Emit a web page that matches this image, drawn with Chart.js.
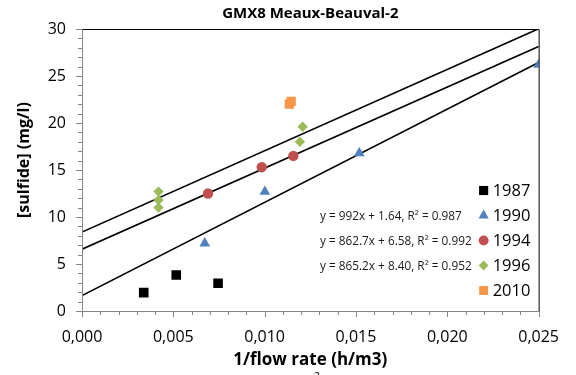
<!DOCTYPE html>
<html><head><meta charset="utf-8">
<script src="https://cdn.jsdelivr.net/npm/chart.js@4/dist/chart.umd.min.js"></script>
<style>html,body{margin:0;padding:0;background:#fff;}#wrap{width:576px;height:375px;position:relative;}</style>
</head><body><div id="wrap"><canvas id="c"></canvas></div>
<script>
// ---- data ----
const chartTitle = 'GMX8 Meaux-Beauval-2';
const xAxisTitle = '1/flow rate (h/m3)';
const yAxisTitle = '[sulfide] (mg/l)';
const seriesNames = ['1987', '1990', '1994', '1996', '2010'];
const x1987 = [0.00338, 0.00516, 0.00745];
const y1987 = [1.95, 3.83, 2.95];
const x1990 = [0.00672, 0.01001, 0.01518, 0.02500];
const y1990 = [7.2, 12.7, 16.8, 26.2];
const x1994 = [0.00690, 0.00984, 0.01157];
const y1994 = [12.5, 15.3, 16.5];
const x1996 = [0.00419, 0.00419, 0.00419, 0.01193, 0.01208];
const y1996 = [12.7, 11.8, 11.0, 18.0, 19.6];
const x2010 = [0.01135, 0.01145];
const y2010 = [22.0, 22.3];
const trendSlopes = [992, 862.7, 865.2];
const trendIntercepts = [1.64, 6.58, 8.40];
const trendLabels = ['y = 992x + 1.64, R\u00b2 = 0.987', 'y = 862.7x + 6.58, R\u00b2 = 0.992', 'y = 865.2x + 8.40, R\u00b2 = 0.952'];
const trendRange = [0, 0.025];
const xTickValues = [0, 0.005, 0.010, 0.015, 0.020, 0.025];
const xTickLabels = ['0,000', '0,005', '0,010', '0,015', '0,020', '0,025'];
const yTickValues = [0, 5, 10, 15, 20, 25, 30];
const yTickLabels = ['0', '5', '10', '15', '20', '25', '30'];
const xMinorStep = 0.001, yMinorStep = 1;

// ---- styles ----
const colors = ['#000000', '#4F81BD', '#C0504D', '#9BBB59', '#F79646'];
const styles = ['rect', 'triangle', 'circle', 'rectRot', 'rect'];
const radii = [6.8, 6.2, 5.2, 5.2, 6.6];
const FONT = "'Open Sans', 'DejaVu Sans', sans-serif";

const xs = [x1987, x1990, x1994, x1996, x2010];
const ys = [y1987, y1990, y1994, y1996, y2010];

const datasets = seriesNames.map((n, i) => ({
  label: n,
  data: xs[i].map((x, k) => ({x: x, y: ys[i][k]})),
  pointStyle: styles[i],
  pointRadius: radii[i],
  pointBackgroundColor: colors[i],
  pointBorderWidth: 0,
  showLine: false
}));
trendSlopes.forEach((a, i) => {
  datasets.push({
    label: trendLabels[i],
    type: 'line',
    data: trendRange.map(x => ({x: x, y: a * x + trendIntercepts[i]})),
    borderColor: '#000000',
    borderWidth: 1.6,
    pointRadius: 0,
    fill: false,
    tension: 0
  });
});

function drawMarker(ctx, style, x, y, r, color) {
  ctx.save();
  ctx.fillStyle = color;
  ctx.beginPath();
  if (style === 'rect') {
    const s = r * Math.SQRT1_2;
    ctx.rect(x - s, y - s, 2 * s, 2 * s);
  } else if (style === 'triangle') {
    ctx.moveTo(x, y - r);
    ctx.lineTo(x + 0.866 * r, y + 0.5 * r);
    ctx.lineTo(x - 0.866 * r, y + 0.5 * r);
    ctx.closePath();
  } else if (style === 'circle') {
    ctx.arc(x, y, r, 0, Math.PI * 2);
  } else if (style === 'rectRot') {
    ctx.moveTo(x - r, y); ctx.lineTo(x, y - r); ctx.lineTo(x + r, y); ctx.lineTo(x, y + r);
    ctx.closePath();
  }
  ctx.fill();
  ctx.restore();
}

const deco = {
  id: 'deco',
  beforeDraw(chart) {
    const ctx = chart.ctx;
    ctx.save();
    ctx.fillStyle = '#ffffff';
    ctx.fillRect(0, 0, chart.width, chart.height);
    ctx.restore();
  },
  afterDraw(chart) {
    const ctx = chart.ctx;
    const a = chart.chartArea;
    const sx = chart.scales.x, sy = chart.scales.y;
    ctx.save();
    // box
    ctx.lineWidth = 1;
    ctx.strokeStyle = '#000000';
    ctx.beginPath();
    ctx.moveTo(a.left + 0.5, a.top + 0.5);
    ctx.lineTo(a.right + 0.5, a.top + 0.5);
    ctx.lineTo(a.right + 0.5, a.bottom + 0.5);
    ctx.stroke();
    ctx.strokeStyle = '#868686';
    ctx.beginPath();
    ctx.moveTo(a.left + 0.5, a.top + 0.5);
    ctx.lineTo(a.left + 0.5, a.bottom + 0.5);
    ctx.lineTo(a.right + 0.5, a.bottom + 0.5);
    ctx.stroke();
    // ticks
    ctx.beginPath();
    const nyMinor = Math.round((sy.max - sy.min) / yMinorStep);
    for (let i = 0; i <= nyMinor; i++) {
      const p = Math.round(sy.getPixelForValue(sy.min + i * yMinorStep)) + 0.5;
      ctx.moveTo(a.left - 4, p); ctx.lineTo(a.left, p);
    }
    yTickValues.forEach(v => { const p = Math.round(sy.getPixelForValue(v)) + 0.5; ctx.moveTo(a.left - 6, p); ctx.lineTo(a.left, p); });
    const nxMinor = Math.round((sx.max - sx.min) / xMinorStep);
    for (let i = 0; i <= nxMinor; i++) {
      const p = Math.round(sx.getPixelForValue(sx.min + i * xMinorStep)) + 0.5;
      ctx.moveTo(p, a.bottom); ctx.lineTo(p, a.bottom + 4);
    }
    xTickValues.forEach(v => { const p = Math.round(sx.getPixelForValue(v)) + 0.5; ctx.moveTo(p, a.bottom); ctx.lineTo(p, a.bottom + 6); });
    ctx.stroke();

    // titles
    ctx.fillStyle = '#000000';
    ctx.font = 'bold 15px ' + FONT;
    ctx.textAlign = 'center';
    ctx.textBaseline = 'alphabetic';
    const cx = (a.left + a.right) / 2;
    ctx.fillText(chartTitle, cx, 18);
    ctx.font = 'bold 17px ' + FONT;
    ctx.fillText(xAxisTitle, cx, 365);
    ctx.save();
    ctx.translate(29, 218);
    ctx.rotate(-Math.PI / 2);
    ctx.textAlign = 'left';
    ctx.font = 'bold 16px ' + FONT;
    ctx.fillText(yAxisTitle, 0, 0);
    ctx.restore();
    // clipped superscript fragment at the bottom
    ctx.font = '11px ' + FONT;
    ctx.fillText('2', 317, 379.5);

    // legend
    ctx.textAlign = 'left';
    ctx.textBaseline = 'middle';
    const rowH = 25;
    const top = a.bottom - 120.5;
    seriesNames.forEach((n, i) => {
      const y = top + i * rowH;
      drawMarker(ctx, styles[i], a.right - 55, y, radii[i] * 0.95, colors[i]);
      ctx.fillStyle = '#000000';
      ctx.font = '16.5px ' + FONT;
      ctx.fillText(n, a.right - 46, y + 1);
    });
    // trendline equations next to legend rows 1990, 1994, 1996
    ctx.font = '11.8px ' + FONT;
    ctx.fillStyle = '#1a1a1a';
    trendLabels.forEach((t, i) => {
      ctx.fillText(t, a.left + 238, top + (i + 1) * rowH + 1);
    });
    ctx.restore();
  }
};

Chart.defaults.font.family = FONT;
new Chart(document.getElementById('c'), {
  type: 'scatter',
  data: {datasets: datasets},
  options: {
    responsive: true,
    maintainAspectRatio: false,
    animation: false,
    events: [],
    layout: {padding: {left: 0, right: 23, top: 29, bottom: 0}},
    plugins: {legend: {display: false}, title: {display: false}, tooltip: {enabled: false}},
    scales: {
      x: {
        type: 'linear', min: 0, max: 0.025,
        grid: {display: false, drawTicks: false},
        border: {display: false},
        afterBuildTicks: s => { s.ticks = xTickValues.map(v => ({value: v})); },
        afterFit: s => { s.height = 64; },
        ticks: {font: {size: 16}, color: '#000000', padding: 17, maxRotation: 0, autoSkip: false,
          callback: (v, i) => xTickLabels[i]}
      },
      y: {
        type: 'linear', min: 0, max: 30,
        grid: {display: false, drawTicks: false},
        border: {display: false},
        afterBuildTicks: s => { s.ticks = yTickValues.map(v => ({value: v})); },
        afterFit: s => { s.width = 82; },
        ticks: {font: {size: 16}, color: '#000000', padding: 16, autoSkip: false,
          callback: (v, i) => yTickLabels[i]}
      }
    }
  },
  plugins: [deco]
});
</script>
</body></html>
